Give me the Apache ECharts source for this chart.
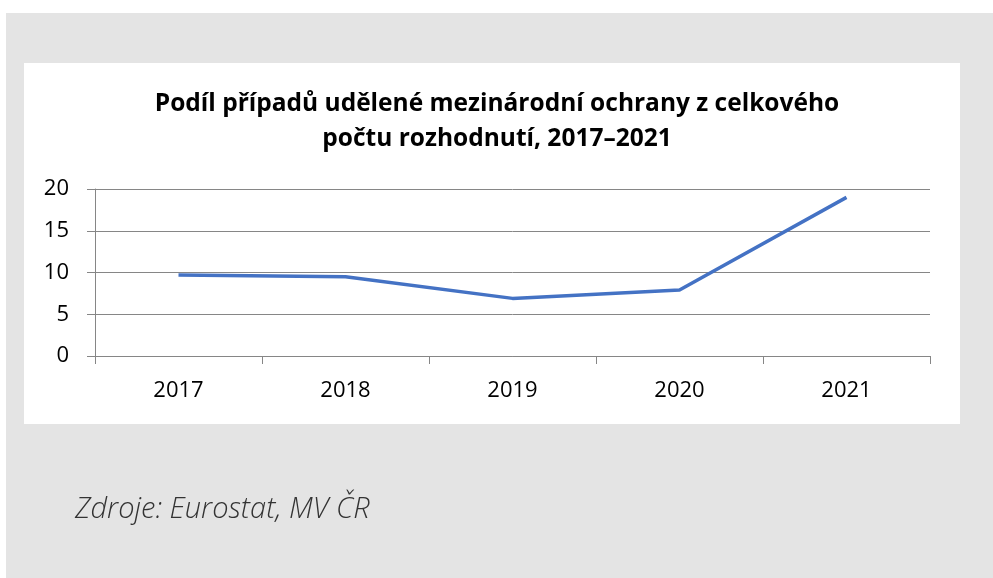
<!DOCTYPE html>
<html>
<head>
<meta charset="utf-8">
<script src="https://cdn.jsdelivr.net/npm/echarts@6/dist/echarts.min.js"></script>
<style>
  html, body { margin: 0; padding: 0; background: #fff; }
  #chart { width: 993px; height: 578px; }
</style>
</head>
<body>
<div id="chart"></div>
<script>
// data
const years = ['2017', '2018', '2019', '2020', '2021'];
const shares = [9.7, 9.5, 6.9, 7.9, 19.0];
const yTicks = [0, 5, 10, 15, 20];

const chart = echarts.init(document.getElementById('chart'));

const font = '"Open Sans", Lato, sans-serif';

chart.setOption({
  animation: false,
  textStyle: { fontFamily: font },
  graphic: [
    { type: 'rect', z: -10, shape: { x: 6, y: 13, width: 987, height: 565 }, style: { fill: '#e4e4e4' } },
    { type: 'rect', z: -9, shape: { x: 24, y: 63, width: 936, height: 361 }, style: { fill: '#ffffff' } },
    {
      type: 'text', left: 75, top: 495,
      style: { text: 'Zdroje: Eurostat, MV ČR', font: 'italic 300 29px ' + font, fill: '#333333' }
    }
  ],
  title: {
    text: 'Podíl případů udělené mezinárodní ochrany z celkového\npočtu rozhodnutí, 2017–2021',
    left: 492, top: 82, textAlign: 'center',
    textStyle: { fontSize: 24.5, fontWeight: 'bold', color: '#000', lineHeight: 35, fontFamily: font }
  },
  grid: { left: 95, right: 63, top: 189, bottom: 222 },
  xAxis: {
    type: 'category',
    data: years,
    boundaryGap: true,
    axisLine: { lineStyle: { color: '#868686', width: 1 } },
    axisTick: { show: true, length: 8, lineStyle: { color: '#868686' } },
    axisLabel: { color: '#000', fontSize: 22, margin: 24 }
  },
  yAxis: {
    type: 'value',
    min: yTicks[0], max: yTicks[yTicks.length - 1], interval: 5,
    axisLine: { show: true, lineStyle: { color: '#868686', width: 1 } },
    axisTick: { show: true, length: 8, lineStyle: { color: '#868686' } },
    splitLine: { lineStyle: { color: '#868686', width: 1 } },
    axisLabel: { color: '#000', fontSize: 22, margin: 26 }
  },
  series: [{
    type: 'line',
    data: shares,
    symbol: 'none',
    lineStyle: { color: '#4472c4', width: 3.5 }
  }]
});
</script>
</body>
</html>
